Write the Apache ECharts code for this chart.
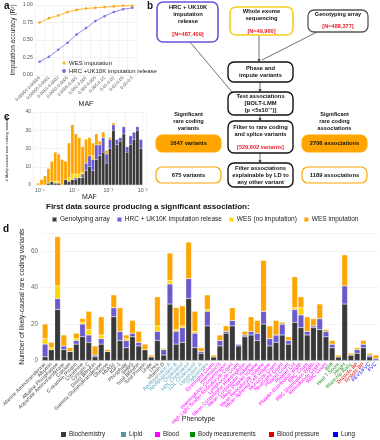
<!DOCTYPE html>
<html><head><meta charset="utf-8">
<script src="https://cdn.jsdelivr.net/npm/echarts@6/dist/echarts.min.js"></script>
<style>html,body{margin:0;padding:0;background:#fff}#c{width:380px;height:440px}</style>
</head><body><div id="c"></div>
<script>
// ---- Panel a data ----
const mafBins = ["0.00001-0.00005","0.00005-0.0001","0.0001-0.0002","0.0002-0.0005","0.0005-0.001","0.001-0.002","0.002-0.005","0.005-0.01","0.01-0.02","0.02-0.05","0.05-0.5"];
const accWES = [0.75,0.81,0.85,0.90,0.93,0.95,0.96,0.97,0.98,0.99,0.99];
const accHRC = [0.19,0.26,0.36,0.46,0.58,0.67,0.77,0.84,0.90,0.94,0.96];

// ---- Panel c data (MAF bins of 0.1 log10 units, from 10^-5.2) ----
const cBins = ["-5.2","-5.1","-5.0","-4.9","-4.8","-4.7","-4.6","-4.5","-4.4","-4.3","-4.2","-4.1","-4.0","-3.9","-3.8","-3.7","-3.6","-3.5","-3.4","-3.3","-3.2","-3.1","-3.0","-2.9","-2.8","-2.7","-2.6","-2.5","-2.4","-2.3","-2.2","-2.1","-2.0"];
const cGeno  = [0,0,0,0,1,2,1,1,0,3,2,3,3,4,4,8,10,8,14,16,18,12,20,30,22,24,28,18,22,25,30,20,0];
const cHRC   = [0,0,0,0,0,0,0,0,0,0,0,0,1,0,2,4,6,6,8,6,8,5,5,3,3,2,4,3,5,4,2,5,0];
const cWESno = [0,0,0,0,0,0,1,1,0,0,2,3,2,2,1,0,0,2,0,0,0,0,0,0,0,0,0,0,0,0,0,0,0];
const cWESimp= [0,1,3,5,8,11,16,15,14,10,19,27,22,20,14,13,10,7,6,2,3,2,1,1,0,0,0,0,0,0,0,0,0];
const cTicks = [-5,-4,-3,-2];

// ---- Panel d data ----
const phenotypes = ["Alanine Aminotransferase","Albumin","Alkaline Phosphatase","Aspartate Aminotransferase","Calcium","C-reactive Protein","Creatinine","Cystatin C","Direct Bilirubin","Gamma Glutamyltransferase","Glucose","HbA1c","IGF-1","Phosphate","SHBG","Total Bilirubin","Total Protein","Urate","Urea","Vitamin D",
"Apolipoprotein A","Apolipoprotein B","Cholesterol","HDL Cholesterol","LDL Cholesterol","Lipoprotein A","Triglycerides",
"Eosinophil Count","Haematocrit","Haemoglobin Concentration","High Light Scatter Reticulocyte Count","Lymphocyte Count","Mean Corpuscular Haemoglobin","Mean Corpuscular Volume","Mean Platelet Volume","Mean Reticulocyte Volume","Mean Sphered Cell Volume","Monocyte Count","Neutrophil Count","Platelet Count","Platelet Crit","Platelet Distribution Width","RBC Count","RBC Distribution Width","Reticulocyte Count","WBC Count",
"BMI","Heel T Score","Height","Waist-hip Ratio",
"Diastolic BP","Systolic BP",
"FEV1/FVC","FVC"];
const phenoGroup = [0,0,0,0,0,0,0,0,0,0,0,0,0,0,0,0,0,0,0,0, 1,1,1,1,1,1,1, 2,2,2,2,2,2,2,2,2,2,2,2,2,2,2,2,2,2,2, 3,3,3,3, 4,4, 5,5];
const groupNames = ["Biochemistry","Lipid","Blood","Body measurements","Blood pressure","Lung"];
const dGeno  = [2,6,28,6,5,9,13,10,2,9,5,24,11,7,13,8,6,2,11,3, 31,9,10,34,7,4,19, 2,8,15,19,8,13,14,11,20,8,10,14,9,21,18,14,18,17,13, 7,2,31,3, 4,7, 2,0];
const dHRC   = [7,0,6,2,0,2,7,4,1,3,0,5,5,4,2,2,0,0,5,3, 11,7,8,11,8,1,8, 0,3,1,3,1,1,2,4,7,4,4,6,2,7,7,2,1,6,3, 2,0,10,0, 2,2, 1,1];
const dWESno = [3,1,7,0,0,1,1,3,0,2,0,0,0,1,0,0,0,0,3,0.5, 2,1,1,0,1,0,1, 0,0,0,0,0,0,0,0,0,0,0,0,0,1,4,0,0,0,0, 0,0,0,0, 0,0, 0,0];
const dWESimp= [8,3,27,6,2,3,2,10,5,10,1,7,13,2,7,6,3,1,16,0.5, 15,12,11,20,11,2,8, 1,3,3,7,0,2,8,7,28,7,8,1,2,17,6,8,4,8,1, 2,1,17,1, 1,2, 1,2];

const FONT = '"Liberation Sans", Arial, sans-serif';
const C_GENO = '#383838', C_HRC = '#6a5acd', C_WESNO = '#ffd700', C_WES = '#ffa500';
const groupLabelColors = ['#444444','#5aa6bd','#ff00ff','#1f8f1f','#e00000','#0000ff'];
const groupLegendColors = ['#3c3c3c','#4f96a8','#ff00ff','#008b00','#dd0000','#0000ee'];

const chart = echarts.init(document.getElementById('c'), null, {renderer:'canvas'});

function txt(x, y, text, size, opts) {
  opts = opts || {};
  return {type:'text', x:x, y:y, z:10, style:{text:text, fontSize:size, fontFamily:FONT,
    fontWeight: opts.weight || 'bold', fill: opts.fill || '#111',
    align: opts.align || 'center', verticalAlign: opts.va || 'middle',
    textAlign: opts.align || 'center', textVerticalAlign: opts.va || 'middle', lineHeight: opts.lh || size+1}};
}
function box(x, y, w, h, stroke, fill, lw) {
  return {type:'rect', z:5, shape:{x:x, y:y, width:w, height:h, r:6},
    style:{fill: fill || '#fff', stroke: stroke, lineWidth: lw || 1.3}};
}
function line(x1,y1,x2,y2){ return {type:'line', z:4, shape:{x1:x1,y1:y1,x2:x2,y2:y2}, style:{stroke:'#333', lineWidth:0.7}}; }
function arrowHead(x,y){ return {type:'polygon', z:6, shape:{points:[[x-1.6,y-2.8],[x+1.6,y-2.8],[x,y]]}, style:{fill:'#333'}}; }

const RED = '#e8202a';
const graphics = [
  txt(4,6,'a',10,{align:'left'}), txt(147,6,'b',10,{align:'left'}), txt(4,117,'c',10,{align:'left'}), txt(3,229,'d',10,{align:'left'}),
  // connectors
  line(190,42,232,92), line(259,35,259,61), line(317,32,262,60),
  arrowHead(259,62), line(260,82,260,91), arrowHead(260,92), line(260,115,260,120), arrowHead(260,121), line(260,153,260,162), arrowHead(260,163),
  // boxes
  box(157,2,61,40,'#6655dd','#fff',1.6),
  txt(188,14,'HRC + UK10K\nimputation\nrelease',5.8,{lh:7}), txt(188,34,'[N=487,409]',5.6,{fill:RED}),
  box(230,7,63,28,'#f8cf1a','#fff',1.6),
  txt(261.5,14.5,'Whole exome\nsequencing',5.8,{lh:7}), txt(261.5,31,'[N=49,960]',5.6,{fill:RED}),
  box(308,10,60,22,'#555','#fff',1.3),
  txt(338,14.5,'Genotyping array',5.6), txt(338,26.5,'[N=488,377]',5.6,{fill:RED}),
  box(228,62,65,20,'#111','#fff',1.4),
  txt(260.5,72,'Phase and\nimpute variants',5.8,{lh:7}),
  box(228,92,65,23,'#111','#fff',1.4),
  txt(260.5,96.5,'Test associations',5.8), txt(260.5,103,'[BOLT-LMM',5.8), txt(260.5,110,'(p <5x10⁻⁷)]',5.8),
  box(228,121,65,32,'#111','#fff',1.4),
  txt(260.5,130.5,'Filter to rare coding\nand splice variants',5.8,{lh:7}), txt(260.5,147.5,'[529,602 variants]',5.6,{fill:RED}),
  box(228,163,65,24,'#111','#fff',1.4),
  txt(260.5,175,'Filter associations\nexplainable by LD to\nany other variant',5.8,{lh:7}),
  txt(188.5,121.5,'Significant\nrare coding\nvariants',5.6,{lh:6.8}),
  txt(334.5,121.5,'Significant\nrare coding\nassociations',5.6,{lh:6.8}),
  box(156,135,65,17,'#ffa500','#ffa500',1),
  txt(188.5,143.5,'1647 variants',5.8),
  box(156,167,65,16,'#ffa500','#fff',1.2),
  txt(188.5,175,'675 variants',5.8),
  box(302,135,65,17,'#ffa500','#ffa500',1),
  txt(334.5,143.5,'2706 associations',5.8),
  box(302,167,65,16,'#ffa500','#fff',1.2),
  txt(334.5,175,'1189 associations',5.8),
  // shared legend title
  txt(46,207,'First data source producing a significant association:',8,{align:'left'})
];
// phenotype legend
const legX = [61,121,155,190,269,333];
groupNames.forEach(function(g,i){
  graphics.push({type:'rect', z:5, shape:{x:legX[i], y:432, width:5, height:5}, style:{fill:groupLegendColors[i]}});
  graphics.push(txt(legX[i]+8, 434.7, g, 6.3, {align:'left', weight:'normal', fill:'#222'}));
});

const phenoData = phenotypes.map(function(p,i){ return {value:p, textStyle:{color:groupLabelColors[phenoGroup[i]]}}; });

const gridLine = {show:true, lineStyle:{color:'#ebebeb', width:0.6}};
const dBar = {type:'bar', stack:'d', xAxisIndex:2, yAxisIndex:2, barCategoryGap:'10%', itemStyle:{borderColor:'rgba(255,255,255,0.55)', borderWidth:0.4}};
const cBar = {type:'bar', stack:'c', xAxisIndex:1, yAxisIndex:1, barCategoryGap:'6%', itemStyle:{borderColor:'rgba(255,255,255,0.4)', borderWidth:0.3}};

const option = {
  animation:false,
  textStyle:{fontFamily:FONT},
  grid:[
    {left:35, top:5, width:102, height:70},
    {left:33, top:112, width:113, height:73},
    {left:39, top:233, width:340, height:127.5}
  ],
  legend:[
    {data:['WES imputation','HRC +UK10K imputation release'], orient:'vertical', left:56, top:55, itemWidth:4, itemHeight:4, itemGap:2, icon:'circle',
     textStyle:{fontSize:6, color:'#222', fontFamily:FONT, padding:[0,0,0,-2]}},
    {data:['Genotyping array','HRC + UK10K imputation release','WES (no imputation)','WES imputation'], left:46, top:211, itemWidth:5, itemHeight:5, itemGap:6, icon:'rect',
     textStyle:{fontSize:6.5, color:'#222', fontFamily:FONT, padding:[0,0,0,-2]}}
  ],
  xAxis:[
    {type:'category', gridIndex:0, data:mafBins, boundaryGap:true, axisLine:{show:false}, axisTick:{show:false},
     axisLabel:{rotate:45, fontSize:4.4, color:'#555', interval:0, margin:2},
     splitLine:{show:true, interval:0, lineStyle:{color:'#ebebeb', width:0.6}},
     name:'MAF', nameLocation:'middle', nameGap:26, nameMoveOverlap:false, nameTextStyle:{fontSize:7, color:'#222'}},
    {type:'category', gridIndex:1, data:cBins, show:false, position:'bottom'},
    {type:'category', gridIndex:2, data:phenoData, axisLine:{show:true, lineStyle:{color:'#bbb', width:0.6}}, axisTick:{show:false},
     axisLabel:{rotate:45, fontSize:5.1, interval:0, margin:3},
     name:'Phenotype', nameLocation:'middle', nameGap:55, nameMoveOverlap:false, nameTextStyle:{fontSize:7, color:'#222', padding:[0,24,0,0]}},
    {type:'value', gridIndex:1, position:'bottom', min:-5.205, max:-1.9, axisLine:{show:false}, axisTick:{show:false},
     axisLabel:{customValues:cTicks, fontSize:5.3, color:'#555', margin:3, formatter:function(v){ return '10' + ({'-5':'⁻⁵','-4':'⁻⁴','-3':'⁻³','-2':'⁻²'})[String(v)]; }},
     splitLine:gridLine,
     name:'MAF', nameLocation:'middle', nameGap:9, nameMoveOverlap:false, nameTextStyle:{fontSize:7, color:'#222'}}
  ],
  yAxis:[
    {type:'value', gridIndex:0, min:0, max:1, interval:0.25, axisLine:{show:false}, axisTick:{show:false},
     axisLabel:{fontSize:5.3, color:'#555', margin:2, formatter:function(v){return v.toFixed(2);}}, splitLine:gridLine,
     name:'Imputation accuracy (R²)', nameLocation:'middle', nameGap:18, nameMoveOverlap:false, nameRotate:90, nameTextStyle:{fontSize:6.5, color:'#222'}},
    {type:'value', gridIndex:1, min:0, max:40, interval:10, axisLine:{show:false}, axisTick:{show:false},
     axisLabel:{fontSize:5, color:'#555', margin:2}, splitLine:gridLine,
     name:'# likely-causal rare coding variants', nameLocation:'middle', nameGap:24, nameMoveOverlap:false, nameRotate:90, nameTextStyle:{fontSize:4.3, color:'#222'}},
    {type:'value', gridIndex:2, min:0, max:70, interval:20, axisLine:{show:false}, axisTick:{show:false},
     axisLabel:{fontSize:6.3, color:'#666', margin:4, showMaxLabel:false}, splitLine:gridLine,
     name:'Number of likely-causal rare coding variants', nameLocation:'middle', nameGap:16, nameMoveOverlap:false, nameRotate:90, nameTextStyle:{fontSize:7, color:'#222'}}
  ],
  series:[
    Object.assign({name:'Genotyping array', data:dGeno, color:C_GENO}, dBar),
    Object.assign({name:'HRC + UK10K imputation release', data:dHRC, color:C_HRC}, dBar),
    Object.assign({name:'WES (no imputation)', data:dWESno, color:C_WESNO}, dBar),
    Object.assign({name:'WES imputation', data:dWESimp, color:C_WES}, dBar),
    Object.assign({name:'Genotyping array', data:cGeno, color:C_GENO}, cBar),
    Object.assign({name:'HRC + UK10K imputation release', data:cHRC, color:C_HRC}, cBar),
    Object.assign({name:'WES (no imputation)', data:cWESno, color:C_WESNO}, cBar),
    Object.assign({name:'WES imputation', data:cWESimp, color:C_WES}, cBar),
    {name:'WES imputation', type:'line', xAxisIndex:0, yAxisIndex:0, data:accWES, color:C_WES, symbol:'circle', symbolSize:2.6, lineStyle:{width:0.8}},
    {name:'HRC +UK10K imputation release', type:'line', xAxisIndex:0, yAxisIndex:0, data:accHRC, color:'#7b6fe6', symbol:'circle', symbolSize:2.6, lineStyle:{width:0.8}}
  ],
  graphic:{elements:graphics}
};
chart.setOption(option);
</script>
</body></html>
